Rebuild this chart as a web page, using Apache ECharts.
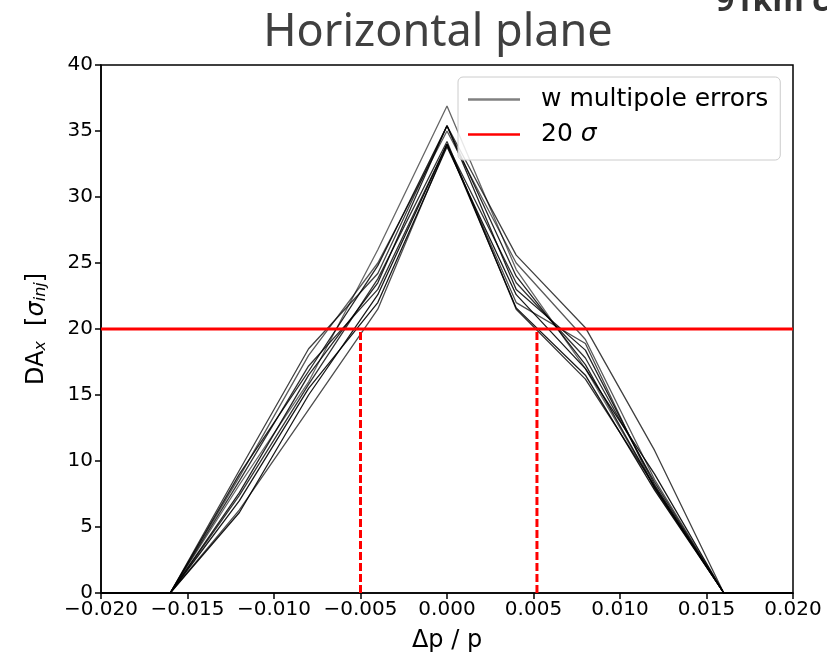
<!DOCTYPE html>
<html>
<head>
<meta charset="utf-8">
<script src="https://cdn.jsdelivr.net/npm/echarts@6/dist/echarts.min.js"></script>
<style>
  html, body { margin: 0; padding: 0; background: #fff; }
  #chart { width: 827px; height: 656px; }
</style>
</head>
<body>
<div id="chart"></div>
<script>
// Momentum deviation sample points
const dp = [-0.020, -0.016, -0.012, -0.008, -0.004, 0.000, 0.004, 0.008, 0.012, 0.016, 0.020];

// Dynamic aperture per error seed, in units of sigma_inj
const seed1  = [0, 0, 8.2, 16.0, 26.0, 36.9, 24.5, 17.0, 8.0, 0, 0];
const seed2  = [0, 0, 9.3, 18.5, 24.2, 35.4, 25.6, 20.1, 10.8, 0, 0];
const seed3  = [0, 0, 7.6, 16.5, 23.5, 35.4, 23.0, 18.4, 8.2, 0, 0];
const seed4  = [0, 0, 6.1, 15.0, 22.6, 34.0, 21.6, 16.5, 7.8, 0, 0];
const seed5  = [0, 0, 8.5, 17.2, 23.0, 34.0, 23.5, 17.8, 8.4, 0, 0];
const seed6  = [0, 0, 6.3, 13.9, 21.5, 34.0, 22.0, 18.9, 7.9, 0, 0];
const seed7  = [0, 0, 9.0, 16.8, 24.8, 35.4, 24.0, 17.3, 8.0, 0, 0];
const seed8  = [0, 0, 7.0, 15.5, 22.0, 33.8, 22.6, 17.0, 9.0, 0, 0];
const seed9  = [0, 0, 8.8, 18.0, 25.0, 35.0, 25.0, 19.2, 8.6, 0, 0];
const seed10 = [0, 0, 7.4, 15.8, 23.8, 34.2, 21.5, 16.2, 8.1, 0, 0];
const seeds = [seed1, seed2, seed3, seed4, seed5, seed6, seed7, seed8, seed9, seed10];
const seedAlpha = [0.6, 0.75, 0.85, 0.9, 0.8, 0.7, 0.85, 0.9, 0.65, 0.8];

// 20 sigma threshold and its crossings in momentum
const threshold = 20;
const crossLeft = -0.005;
const crossRight = 0.0052;

// Axis ticks
const xTicks = { min: -0.020, max: 0.020, step: 0.005 };
const yTicks = { min: 0, max: 40, step: 5 };

const chart = echarts.init(document.getElementById('chart'), null, { renderer: 'canvas' });

const labelFont = 'DejaVu Sans';

const seedSeries = seeds.map((s, i) => ({
  name: 'w multipole errors',
  type: 'line',
  data: dp.map((x, k) => [x, s[k]]),
  showSymbol: false,
  symbol: 'none',
  silent: true,
  z: 2,
  lineStyle: { color: '#000', width: 1.3, opacity: seedAlpha[i] },
  itemStyle: { color: '#808080' }
}));

const option = {
  animation: false,
  backgroundColor: '#fff',
  title: {
    text: 'Horizontal plane',
    left: 433,
    top: 6,
    textAlign: 'center',
    textStyle: {
      fontFamily: 'Noto Sans',
      fontWeight: 'normal',
      fontSize: 45,
      color: '#404040'
    }
  },
  graphic: [{
    type: 'text',
    left: 716,
    top: -14,
    style: {
      text: '91km c',
      font: 'bold 32px "Noto Sans"',
      fill: '#333'
    }
  }],
  legend: {
    orient: 'vertical',
    left: 458,
    top: 77,
    padding: [10, 12, 13, 10],
    itemGap: 10,
    itemWidth: 52,
    itemHeight: 2.5,
    icon: 'rect',
    borderColor: '#cccccc',
    borderWidth: 1,
    borderRadius: 5,
    backgroundColor: 'rgba(255,255,255,0.85)',
    selectedMode: false,
    data: [
      { name: 'w multipole errors', itemStyle: { color: '#808080' } },
      { name: '20 σ', itemStyle: { color: '#ff0000' } }
    ],
    formatter: function (name) {
      if (name === '20 σ') return '{n|20 }{s|σ}';
      return '{n|' + name + '}';
    },
    textStyle: {
      padding: [0, 0, 0, 16],
      rich: {
        n: { fontFamily: labelFont, fontSize: 25, color: '#000', lineHeight: 30 },
        s: { fontFamily: labelFont, fontSize: 25, fontStyle: 'italic', color: '#000', lineHeight: 30 }
      }
    }
  },
  grid: {
    left: 101,
    right: 34,
    top: 65,
    bottom: 63,
    show: true,
    borderColor: '#000',
    borderWidth: 1.5,
    backgroundColor: '#fff',
    containLabel: false,
    outerBoundsMode: 'none'
  },
  xAxis: {
    type: 'value',
    min: xTicks.min,
    max: xTicks.max,
    interval: xTicks.step,
    name: 'Δp / p',
    nameLocation: 'middle',
    nameGap: 36,
    nameTextStyle: { fontFamily: labelFont, fontSize: 24, color: '#000' },
    axisLine: { show: true, onZero: false, lineStyle: { color: '#000', width: 1.5 } },
    axisTick: { show: true, length: 6, lineStyle: { color: '#000', width: 1.5 } },
    axisLabel: {
      fontFamily: labelFont,
      fontSize: 20,
      color: '#000',
      margin: 7,
      formatter: v => (v < 0 ? '\u2212' : '') + Math.abs(v).toFixed(3)
    },
    splitLine: { show: false }
  },
  yAxis: {
    type: 'value',
    min: yTicks.min,
    max: yTicks.max,
    interval: yTicks.step,
    name: '{n|DA}{sub|x}{n|  [}{s|σ}{ss|inj}{n|]}',
    nameLocation: 'middle',
    nameRotate: 90,
    nameGap: 52,
    nameTextStyle: {
      rich: {
        n: { fontFamily: labelFont, fontSize: 24, color: '#000', verticalAlign: 'bottom', lineHeight: 28 },
        sub: { fontFamily: labelFont, fontSize: 16, color: '#000', fontStyle: 'italic', verticalAlign: 'bottom', lineHeight: 22 },
        s: { fontFamily: labelFont, fontSize: 24, color: '#000', fontStyle: 'italic', verticalAlign: 'bottom', lineHeight: 28 },
        ss: { fontFamily: labelFont, fontSize: 16, color: '#000', fontStyle: 'italic', verticalAlign: 'bottom', lineHeight: 22 }
      }
    },
    axisLine: { show: true, onZero: false, lineStyle: { color: '#000', width: 1.5 } },
    axisTick: { show: true, length: 6, lineStyle: { color: '#000', width: 1.5 } },
    axisLabel: { fontFamily: labelFont, fontSize: 20, color: '#000', margin: 8 },
    splitLine: { show: false }
  },
  series: seedSeries.concat([
    {
      name: '20 σ',
      type: 'line',
      data: [[xTicks.min, threshold], [xTicks.max, threshold]],
      showSymbol: false,
      symbol: 'none',
      silent: true,
      z: 4,
      lineStyle: { color: '#ff0000', width: 3 },
      itemStyle: { color: '#ff0000' }
    },
    {
      name: 'crossLeft',
      type: 'line',
      data: [[crossLeft, 0], [crossLeft, threshold]],
      showSymbol: false,
      symbol: 'none',
      silent: true,
      z: 3,
      lineStyle: { color: '#ff0000', width: 3, type: [8, 3] }
    },
    {
      name: 'crossRight',
      type: 'line',
      data: [[crossRight, 0], [crossRight, threshold]],
      showSymbol: false,
      symbol: 'none',
      silent: true,
      z: 3,
      lineStyle: { color: '#ff0000', width: 3, type: [8, 3] }
    }
  ])
};

chart.setOption(option);
</script>
</body>
</html>
